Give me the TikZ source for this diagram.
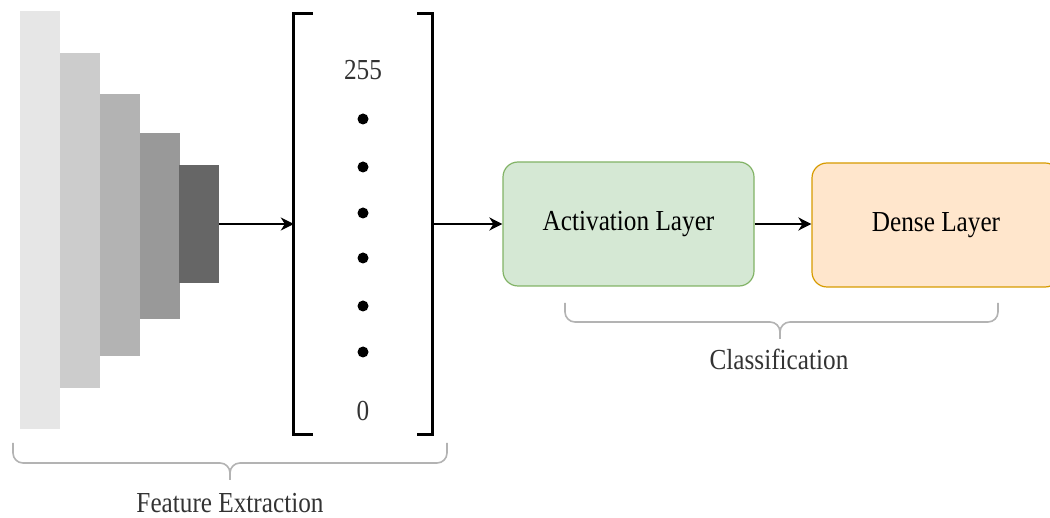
\documentclass[tikz,border=0pt]{standalone}
\usepackage{fontspec}
\setmainfont{Liberation Serif}[FakeStretch=0.87]
\usetikzlibrary{arrows.meta}
\definecolor{layerA}{HTML}{E6E6E6}
\definecolor{layerB}{HTML}{CCCCCC}
\definecolor{layerC}{HTML}{B3B3B3}
\definecolor{layerD}{HTML}{999999}
\definecolor{layerE}{HTML}{666666}
\definecolor{actfill}{HTML}{D5E8D4}
\definecolor{actline}{HTML}{82B366}
\definecolor{densefill}{HTML}{FFE6CC}
\definecolor{denseline}{HTML}{D79B00}
\definecolor{bracegray}{HTML}{B3B3B3}
\definecolor{textgray}{HTML}{333333}
\tikzset{
  layer/.style={inner sep=0pt, minimum width=40pt},
  layerbox/.style={rounded corners=15pt, line width=1.2pt, inner sep=0pt, font=\fontsize{29}{34}\selectfont},
  flow/.style={line width=2pt, -{Stealth[length=13pt,width=13pt,inset=4pt]}},
  brace/.style={bracegray, line width=1.6pt, rounded corners=10pt},
  caption/.style={textgray, font=\fontsize{29}{34}\selectfont}
}

\begin{document}
\begin{tikzpicture}[x=1pt, y=-1pt]
            \useasboundingbox (0,0) rectangle (1050,518);
            \clip (0,0) rectangle (1050,518);
            % convolution stack
            \node[layer, fill=layerA, minimum height=418pt] (layer1) at ( 40.0,220.0) {};
            \node[layer, fill=layerB, minimum height=335pt] (layer2) at ( 80.0,220.5) {};
            \node[layer, fill=layerC, minimum height=262pt] (layer3) at (120.0,225.0) {};
            \node[layer, fill=layerD, minimum height=186pt] (layer4) at (159.5,226.0) {};
            \node[layer, fill=layerE, minimum height=118pt] (layer5) at (199.0,224.0) {};
            % feature vector
            \node[inner sep=0pt, minimum width=138pt, minimum height=420pt] (vector) at (363,224) {};
            \draw[line width=3pt] ([xshift=19pt]vector.north west) -- (vector.north west) -- (vector.south west) -- ([xshift=19pt]vector.south west);
            \draw[line width=3pt] ([xshift=-15pt]vector.north east) -- (vector.north east) -- (vector.south east) -- ([xshift=-15pt]vector.south east);
            \node[caption] (top) at (363,70) {255};
            \node[caption] (bottom) at (363,411) {0};
            \foreach \y in {119,167,213,258,306,352}
                \fill (363,\y) circle (5.5pt);
            % classifier
            \node[layerbox, draw=actline, fill=actfill, minimum width=251pt, minimum height=124pt] (act) at (628.5,224.0) {Activation Layer};
            \node[layerbox, draw=denseline, fill=densefill, minimum width=248pt, minimum height=124pt] (dense) at (936.0,225.0) {Dense Layer};
            \draw[flow] (layer5.east) -- (layer5.east -| vector.west);
            \draw[flow] (vector.east) -- (vector.east -| act.west);
            \draw[flow] (act.east) -- (act.east -| dense.west);
            % braces
            \draw[brace] (13,443) |- (230,463) -- (230,480);
            \draw[brace] (447,443) |- (230,463) -- (230,480);
            \node[caption] (feat) at (230,503) {Feature Extraction};
            \draw[brace] (565,303) |- (780,322) -- (780,339);
            \draw[brace] (998,303) |- (780,322) -- (780,339);
            \node[caption] (cls) at (779,359) {Classification};
        \end{tikzpicture}
\end{document}
